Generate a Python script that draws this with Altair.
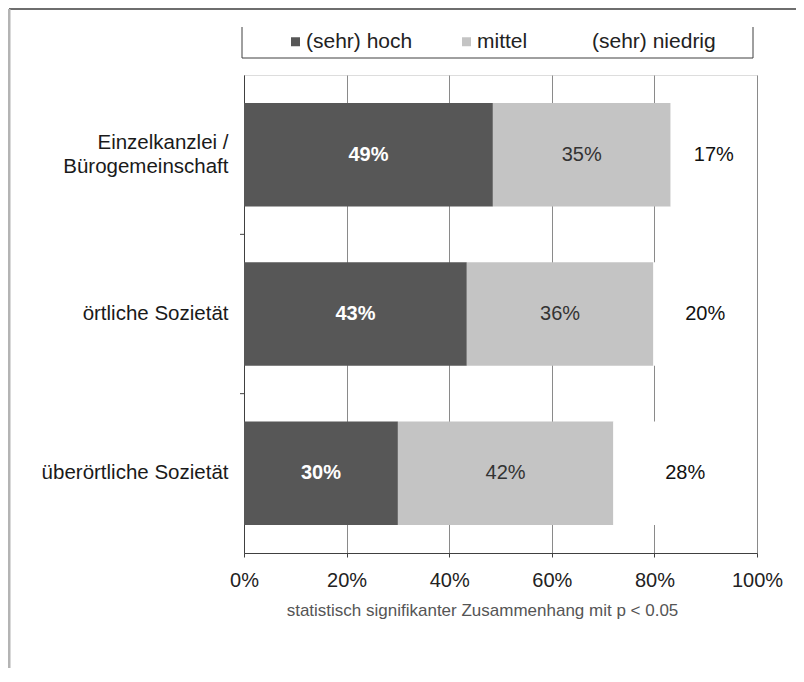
import altair as alt
import pandas as pd

categories = ["Einzelkanzlei / Bürogemeinschaft", "örtliche Sozietät", "überörtliche Sozietät"]
levels = ["(sehr) hoch", "mittel", "(sehr) niedrig"]
hoch = [49, 43, 30]
mittel = [35, 36, 42]
niedrig = [17, 20, 28]
x_ticks = [0, 0.2, 0.4, 0.6, 0.8, 1.0]
note = "statistisch signifikanter Zusammenhang mit p < 0.05"

rows = []
for i, g in enumerate(categories):
    for j, (lvl, vals) in enumerate(zip(levels, [hoch, mittel, niedrig])):
        rows.append({"Gruppe": g, "Stufe": lvl, "Ordnung": j, "Wert": vals[i]})
df = pd.DataFrame(rows)

FONT = "Liberation Sans"
W, H = 513, 478
PAD_IN, PAD_OUT = 0.35, 0.175
STEP = H / (len(categories) - PAD_IN + 2 * PAD_OUT)

base = alt.Chart(df).transform_stack(
    stack="Wert", as_=["x0", "x1"], groupby=["Gruppe"],
    sort=[alt.SortField("Ordnung", order="ascending")], offset="normalize"
).transform_calculate(mid="(datum.x0 + datum.x1) / 2", lbl="datum.Wert + '%'")

y_scale = alt.Scale(paddingInner=PAD_IN, paddingOuter=PAD_OUT)

y_enc = alt.Y(
    "Gruppe:N", sort=categories, title=None, scale=y_scale,
    axis=alt.Axis(
        labelExpr="datum.label == 'Einzelkanzlei / Bürogemeinschaft' ? ['Einzelkanzlei /', 'Bürogemeinschaft'] : datum.label",
        labelFontSize=20.5, labelColor="#1a1a1a", labelFont=FONT, labelLineHeight=24,
        labelOffset={"condition": {"test": "datum.value == 'Einzelkanzlei / Bürogemeinschaft'", "value": -12}, "value": 0},
        labelPadding=16, labelLimit=300, ticks=False,
        domainColor="#404040", grid=False,
    ),
)

bars = base.mark_bar(strokeWidth=0).encode(
    y=y_enc,
    x=alt.X(
        "x0:Q", scale=alt.Scale(domain=[0, 1], nice=False), title=note,
        axis=alt.Axis(
            values=x_ticks, format=".0%", labelFontSize=20, labelColor="#222",
            labelFont=FONT, labelPadding=13, labelFlush=False, tickSize=4,
            tickColor="#404040", domainColor="#404040", gridColor="#8a8a8a",
            gridWidth=1, titleFontSize=17, titleFontWeight="normal",
            titleColor="#555", titleFont=FONT, titleX=238, titleY=57,
            titleBaseline="middle", titleAlign="center",
        ),
    ),
    x2="x1:Q",
    color=alt.Color(
        "Stufe:N",
        scale=alt.Scale(domain=levels, range=["#575757", "#c4c4c4", "#ffffff"]),
        legend=alt.Legend(
            title=None, orient="none", legendX=41, legendY=-44, direction="horizontal",
            columns=3, symbolType="square", symbolSize=81, symbolStrokeWidth=0,
            labelFontSize=21, labelFont=FONT, labelColor="#222", labelOffset=0,
            columnPadding=43, padding=0,
        ),
    ),
)

# small ticks between the category bands
band_ticks = alt.Chart(pd.DataFrame({"Gruppe": categories[:-1]})).mark_rule(
    color="#404040", strokeWidth=1, yOffset=STEP * PAD_IN / 2
).encode(
    y=alt.Y("Gruppe:N", sort=categories, scale=y_scale, bandPosition=1),
    x=alt.value(-4),
    x2=alt.value(0),
)

text_color = alt.Color(
    "Stufe:N",
    scale=alt.Scale(domain=levels, range=["#ffffff", "#333333", "#111111"]),
    legend=None,
)

texts_bold = base.transform_filter("datum.Ordnung == 0").mark_text(
    fontSize=20, font=FONT, fontWeight="bold"
).encode(
    y=alt.Y("Gruppe:N", sort=categories),
    x=alt.X("mid:Q"),
    text="lbl:N",
    color=text_color,
)
texts_norm = base.transform_filter("datum.Ordnung > 0").mark_text(
    fontSize=20, font=FONT
).encode(
    y=alt.Y("Gruppe:N", sort=categories),
    x=alt.X("mid:Q"),
    text="lbl:N",
    color=text_color,
)

one = pd.DataFrame({"a": [0]})


def rule(x, x2, y, y2, color, width):
    return alt.Chart(one).mark_rule(color=color, strokeWidth=width).encode(
        x=alt.value(x), x2=alt.value(x2), y=alt.value(y), y2=alt.value(y2)
    )


frame_top = rule(-235, 552, -66, -66, "#6e6e6e", 2)
frame_left = rule(-235, -235, -66, 593, "#b4b4b4", 3)
leg_left = rule(-2, -2, -48, -17, "#404040", 1)
leg_right = rule(509, 509, -48, -17, "#404040", 1)
leg_bottom = rule(-2, 509, -17, -17, "#404040", 1)

chart = alt.layer(
    bars, band_ticks, texts_bold, texts_norm, frame_top, frame_left,
    leg_left, leg_right, leg_bottom
).resolve_scale(color="independent").properties(
    width=W, height=H,
    autosize=alt.AutoSizeParams(type="none"),
    padding={"left": 236, "top": 67, "right": 39, "bottom": 115},
).configure_view(stroke="#404040", strokeWidth=1).configure(font=FONT)

chart.save("out.html", embed_options={"renderer": "svg", "actions": False})
